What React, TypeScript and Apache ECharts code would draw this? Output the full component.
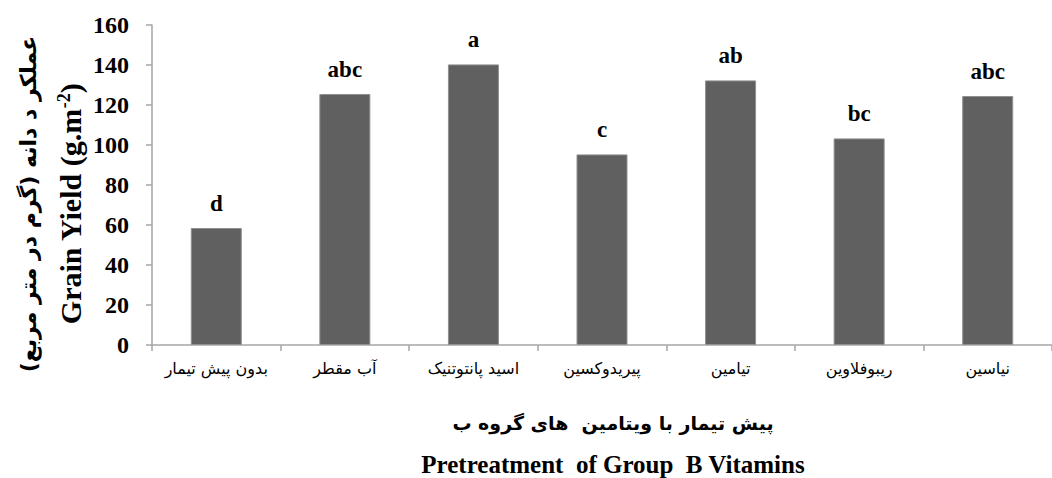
import React, { useEffect, useRef } from 'react';
import * as echarts from 'echarts';

const categories = [
  'بدون پیش تیمار',
  'آب مقطر',
  'اسید پانتوتنیک',
  'پیریدوکسین',
  'تیامین',
  'ریبوفلاوین',
  'نیاسین',
];
const grainYield = [58.5, 125.5, 140.3, 95.3, 132.3, 103.3, 124.5];
const groupLetters = ['d', 'abc', 'a', 'c', 'ab', 'bc', 'abc'];
const yMin = 0;
const yMax = 160;
const yInterval = 20;

const yTitleFa = 'عملکر د دانه (گرم در متر مربع)';
const yTitleEnMain = 'Grain Yield (g.m';
const yTitleEnSup = '-2';
const xTitleFa = 'پیش تیمار با ویتامین  های گروه ب';
const xTitleEn = 'Pretreatment  of Group  B Vitamins';

const SERIF = 'Liberation Serif';
const FA = 'DejaVu Sans';

export default function App() {
  const ref = useRef<HTMLDivElement>(null);
  useEffect(() => {
    document.body.style.margin = '0';
    if (!ref.current) return;
    const chart = echarts.init(ref.current, undefined, { renderer: 'svg' });
    chart.setOption({
      animation: false,
      backgroundColor: '#ffffff',
      grid: { left: 152, top: 25, width: 911, height: 320 },
      xAxis: {
        type: 'category',
        data: categories,
        axisLine: { lineStyle: { color: '#a6a6a6', width: 1.5 } },
        axisTick: { show: true, length: 6, lineStyle: { color: '#a6a6a6', width: 1.5 } },
        axisLabel: { color: '#000', fontFamily: FA, fontSize: 16, margin: 15, interval: 0 },
      },
      yAxis: {
        type: 'value',
        min: yMin,
        max: yMax,
        interval: yInterval,
        splitLine: { show: false },
        axisLine: { show: true, lineStyle: { color: '#a6a6a6', width: 1.5 } },
        axisTick: { show: true, length: 6, lineStyle: { color: '#a6a6a6', width: 1.5 } },
        axisLabel: { color: '#000', fontFamily: SERIF, fontWeight: 'bold', fontSize: 24, margin: 23 },
      },
      series: [
        {
          type: 'bar',
          data: grainYield,
          barWidth: 51,
          itemStyle: { color: '#606060', borderColor: '#909090', borderWidth: 1 },
          label: {
            show: true,
            position: 'top',
            distance: 13,
            color: '#000',
            fontFamily: SERIF,
            fontWeight: 'bold',
            fontSize: 23,
            formatter: (p: any) => groupLetters[p.dataIndex],
          },
        },
      ],
      graphic: [
        {
          type: 'text',
          x: 28,
          y: 204,
          rotation: Math.PI / 2,
          style: {
            text: yTitleFa,
            fontFamily: FA,
            fontWeight: 'bold',
            fontSize: 22,
            fill: '#000',
            textAlign: 'center',
            textVerticalAlign: 'middle',
          },
        },
        {
          type: 'text',
          x: 70,
          y: 204,
          rotation: Math.PI / 2,
          style: {
            text: '{a|' + yTitleEnMain + '}{s|' + yTitleEnSup + '}{a|)}',
            rich: {
              a: { fontFamily: SERIF, fontWeight: 'bold', fontSize: 30, fill: '#000' },
              s: { fontFamily: SERIF, fontWeight: 'bold', fontSize: 18, fill: '#000', verticalAlign: 'top' },
            },
            textAlign: 'center',
            textVerticalAlign: 'middle',
          },
        },
        {
          type: 'text',
          x: 613,
          y: 423,
          style: {
            text: xTitleFa,
            fontFamily: FA,
            fontWeight: 'bold',
            fontSize: 19,
            fill: '#000',
            textAlign: 'center',
            textVerticalAlign: 'middle',
          },
        },
        {
          type: 'text',
          x: 613,
          y: 464,
          style: {
            text: xTitleEn,
            fontFamily: SERIF,
            fontWeight: 'bold',
            fontSize: 25,
            fill: '#000',
            textAlign: 'center',
            textVerticalAlign: 'middle',
          },
        },
      ],
    });
    return () => chart.dispose();
  }, []);
  return <div ref={ref} style={{ width: 1052, height: 478 }} />;
}
